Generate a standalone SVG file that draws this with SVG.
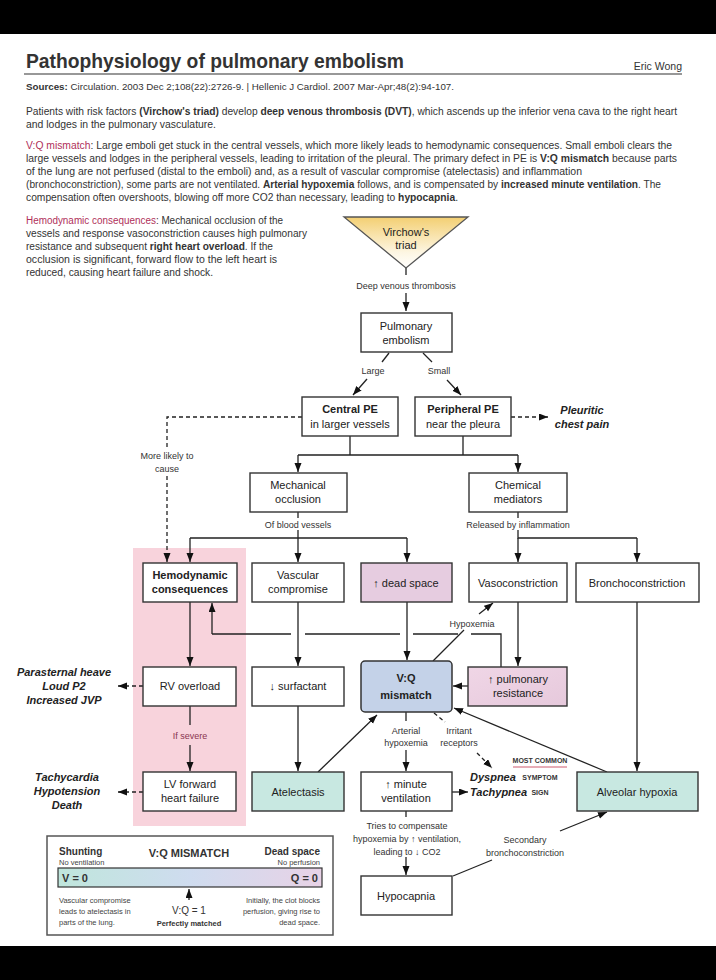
<svg xmlns="http://www.w3.org/2000/svg" width="716" height="980" viewBox="0 0 716 980">
<defs>
<marker id="ah" markerWidth="10" markerHeight="8" refX="9" refY="3.5" orient="auto" markerUnits="userSpaceOnUse"><path d="M0,0 L9,3.5 L0,7 z" fill="#111"/></marker>
<linearGradient id="tri" x1="0" y1="0" x2="0" y2="1"><stop offset="0" stop-color="#f3cf72"/><stop offset="0.7" stop-color="#fdf6e3"/><stop offset="1" stop-color="#ffffff"/></linearGradient>
<linearGradient id="bar" x1="0" y1="0" x2="1" y2="0"><stop offset="0" stop-color="#bfe6dc"/><stop offset="0.5" stop-color="#cfdcef"/><stop offset="1" stop-color="#e8d2e6"/></linearGradient>
<linearGradient id="pr" x1="0" y1="0" x2="1" y2="1"><stop offset="0" stop-color="#f0d6e6"/><stop offset="1" stop-color="#e6c9dc"/></linearGradient>
</defs>
<style>
text{font-family:"Liberation Sans",Arial,sans-serif;fill:#333}
.p{font-size:10px}
.b{font-weight:bold}
.pk{fill:#b0305a}
.n{font-size:11px;fill:#222;text-anchor:middle}
.nb{font-size:11px;fill:#222;text-anchor:middle;font-weight:bold}
.l{font-size:9px;fill:#333;text-anchor:middle}
.bi{font-size:11px;font-weight:bold;font-style:italic;fill:#222;text-anchor:middle}
.box{fill:#fff;stroke:#333;stroke-width:1.4}
.ln{fill:none;stroke:#222;stroke-width:1.3}
.da{fill:none;stroke:#222;stroke-width:1.3;stroke-dasharray:4 3}
.s{font-size:7.5px;fill:#444}
</style>
<rect x="0" y="0" width="716" height="980" fill="#fff"/>
<rect x="0" y="0" width="716" height="34" fill="#000"/>
<rect x="0" y="946" width="716" height="34" fill="#000"/>

<g id="header">
<text x="26" y="68" font-size="21" font-weight="bold" fill="#1a1a1a" textLength="378" lengthAdjust="spacingAndGlyphs">Pathophysiology of pulmonary embolism</text>
<text x="682" y="70" font-size="10.5" text-anchor="end">Eric Wong</text>
<line x1="24" y1="74" x2="682" y2="74" stroke="#333" stroke-width="1.2"/>
<text x="26" y="90" font-size="9" textLength="428" lengthAdjust="spacingAndGlyphs"><tspan class="b">Sources:</tspan> Circulation. 2003 Dec 2;108(22):2726-9. | Hellenic J Cardiol. 2007 Mar-Apr;48(2):94-107.</text>
<text class="p" x="26" y="115" textLength="651" lengthAdjust="spacingAndGlyphs">Patients with risk factors <tspan class="b">(Virchow's triad)</tspan> develop <tspan class="b">deep venous thrombosis (DVT)</tspan>, which ascends up the inferior vena cava to the right heart</text>
<text class="p" x="26" y="128" textLength="190" lengthAdjust="spacingAndGlyphs">and lodges in the pulmonary vasculature.</text>
<text class="p" x="26" y="149" textLength="646" lengthAdjust="spacingAndGlyphs"><tspan class="pk">V:Q mismatch</tspan>: Large emboli get stuck in the central vessels, which more likely leads to hemodynamic consequences. Small emboli clears the</text>
<text class="p" x="26" y="162" textLength="651" lengthAdjust="spacingAndGlyphs">large vessels and lodges in the peripheral vessels, leading to irritation of the pleural. The primary defect in PE is <tspan class="b">V:Q mismatch</tspan> because parts</text>
<text class="p" x="26" y="175" textLength="556" lengthAdjust="spacingAndGlyphs">of the lung are not perfused (distal to the emboli) and, as a result of vascular compromise (atelectasis) and inflammation</text>
<text class="p" x="26" y="188" textLength="635" lengthAdjust="spacingAndGlyphs">(bronchoconstriction), some parts are not ventilated. <tspan class="b">Arterial hypoxemia</tspan> follows, and is compensated by <tspan class="b">increased minute ventilation</tspan>. The</text>
<text class="p" x="26" y="201" textLength="432" lengthAdjust="spacingAndGlyphs">compensation often overshoots, blowing off more CO2 than necessary, leading to <tspan class="b">hypocapnia</tspan>.</text>
<text class="p" x="26" y="224" textLength="257" lengthAdjust="spacingAndGlyphs"><tspan class="pk">Hemodynamic consequences</tspan>: Mechanical occlusion of the</text>
<text class="p" x="26" y="237" textLength="281" lengthAdjust="spacingAndGlyphs">vessels and response vasoconstriction causes high pulmonary</text>
<text class="p" x="26" y="250" textLength="247" lengthAdjust="spacingAndGlyphs">resistance and subsequent <tspan class="b">right heart overload</tspan>. If the</text>
<text class="p" x="26" y="263" textLength="251" lengthAdjust="spacingAndGlyphs">occlusion is significant, forward flow to the left heart is</text>
<text class="p" x="26" y="276" textLength="187" lengthAdjust="spacingAndGlyphs">reduced, causing heart failure and shock.</text>
</g>

<rect id="hemo-zone" x="133" y="548" width="113" height="278" fill="#f8d3dc"/>

<g id="connectors">
<path class="ln" d="M406,268 V275"/>
<path class="ln" d="M406,293 V311" marker-end="url(#ah)"/>
<path class="ln" d="M389,353 L382,362"/>
<path class="ln" d="M367,379 L353,395" marker-end="url(#ah)"/>
<path class="ln" d="M423,353 L432,362"/>
<path class="ln" d="M447,380 L461,395" marker-end="url(#ah)"/>
<path class="da" d="M511,417 H548" marker-end="url(#ah)"/>
<path class="da" d="M302,417 H167 V448"/>
<path class="da" d="M167,476 V562" marker-end="url(#ah)"/>
<path class="ln" d="M350,436 V455 M463,436 V455 M298,455 H518"/>
<path class="ln" d="M298,455 V472" marker-end="url(#ah)"/>
<path class="ln" d="M518,455 V472" marker-end="url(#ah)"/>
<path class="ln" d="M298,512 V518 M298,530 V538 M190,538 H407"/>
<path class="ln" d="M190,538 V562" marker-end="url(#ah)"/>
<path class="ln" d="M298,538 V562" marker-end="url(#ah)"/>
<path class="ln" d="M407,538 V562" marker-end="url(#ah)"/>
<path class="ln" d="M518,512 V518 M518,530 V538 H637"/>
<path class="ln" d="M518,538 V562" marker-end="url(#ah)"/>
<path class="ln" d="M637,538 V562" marker-end="url(#ah)"/>
<path class="ln" d="M190,602 V666" marker-end="url(#ah)"/>
<path class="ln" d="M501,667 V634 H471 M458,634 H413 M400,634 H305 M291,634 H212"/>
<path class="ln" d="M212,634 V603" marker-end="url(#ah)"/>
<path class="ln" d="M298,602 V666" marker-end="url(#ah)"/>
<path class="ln" d="M298,706 V771" marker-end="url(#ah)"/>
<path class="ln" d="M407,602 V660" marker-end="url(#ah)"/>
<path class="ln" d="M518,602 V666" marker-end="url(#ah)"/>
<path class="ln" d="M637,602 V771" marker-end="url(#ah)"/>
<path class="ln" d="M433,661 L464,630"/>
<path class="ln" d="M479,614 L493,603" marker-end="url(#ah)"/>
<path class="ln" d="M468,686 H453" marker-end="url(#ah)"/>
<path class="ln" d="M318,772 L377,715" marker-end="url(#ah)"/>
<path class="ln" d="M607,772 L454,708" marker-end="url(#ah)"/>
<path class="ln" d="M406,712 V721"/>
<path class="ln" d="M406,750 V771" marker-end="url(#ah)"/>
<path class="da" d="M434,713 L445,722"/>
<path class="da" d="M477,753 L492,768" marker-end="url(#ah)"/>
<path class="ln" d="M452,792 H468" marker-end="url(#ah)"/>
<path class="da" d="M143,686 H118" marker-end="url(#ah)"/>
<path class="da" d="M143,792 H118" marker-end="url(#ah)"/>
<path class="ln" stroke="#6b2a3a" d="M190,706 V725"/>
<path class="ln" d="M190,745 V771" marker-end="url(#ah)"/>
<path class="ln" d="M406,811 V817"/>
<path class="ln" d="M406,857 V875" marker-end="url(#ah)"/>
<path class="ln" d="M453,876 L492,860"/>
<path class="ln" d="M560,831 L607,812" marker-end="url(#ah)"/>
</g>

<g id="edge-labels">
<text class="l" x="406" y="289" font-size="10">Deep venous thrombosis</text>
<text class="l" x="373" y="374" font-size="9.5">Large</text>
<text class="l" x="439" y="374" font-size="9.5">Small</text>
<text class="l" x="167" y="459">More likely to</text>
<text class="l" x="167" y="472">cause</text>
<text class="l" x="298" y="528" font-size="8.5">Of blood vessels</text>
<text class="l" x="518" y="528">Released by inflammation</text>
<text class="l" x="472" y="627" font-size="8.5">Hypoxemia</text>
<text class="l" x="406" y="734">Arterial</text>
<text class="l" x="406" y="746">hypoxemia</text>
<text class="l" x="459" y="734">Irritant</text>
<text class="l" x="459" y="746">receptors</text>
<text class="l" x="190" y="739" font-size="9.5" style="fill:#8a3550">If severe</text>
<text class="l" x="407" y="829" font-size="8.5">Tries to compensate</text>
<text class="l" x="407" y="842" font-size="8.5">hypoxemia by ↑ ventilation,</text>
<text class="l" x="407" y="855" font-size="8.5">leading to ↓ CO2</text>
<text class="l" x="525" y="843" font-size="9.5">Secondary</text>
<text class="l" x="525" y="856" font-size="9.5">bronchoconstriction</text>
</g>

<g id="virchow">
<polygon points="344,217 468,217 406,268" fill="url(#tri)" stroke="#555" stroke-width="1.3"/>
<text class="n" x="406" y="236" font-size="10.5">Virchow's</text>
<text class="n" x="406" y="249" font-size="10.5">triad</text>
</g>
<g id="pe"><rect class="box" x="361" y="313" width="91" height="39"/><text class="n" x="406" y="330">Pulmonary</text><text class="n" x="406" y="344">embolism</text></g>
<g id="central"><rect class="box" x="302" y="397" width="96" height="39"/><text class="nb" x="350" y="413">Central PE</text><text class="n" x="350" y="428">in larger vessels</text></g>
<g id="peripheral"><rect class="box" x="415" y="397" width="96" height="39"/><text class="nb" x="463" y="413">Peripheral PE</text><text class="n" x="463" y="428">near the pleura</text></g>
<g id="pleuritic"><text class="bi" x="582" y="414">Pleuritic</text><text class="bi" x="582" y="428">chest pain</text></g>
<g id="mechanical"><rect class="box" x="250" y="473" width="97" height="39"/><text class="n" x="298" y="489">Mechanical</text><text class="n" x="298" y="503">occlusion</text></g>
<g id="chemical"><rect class="box" x="469" y="473" width="98" height="39"/><text class="n" x="518" y="489">Chemical</text><text class="n" x="518" y="503">mediators</text></g>
<g id="hemodynamic"><rect class="box" x="143" y="563" width="94" height="39"/><text class="nb" x="190" y="579">Hemodynamic</text><text class="nb" x="190" y="593">consequences</text></g>
<g id="vascular"><rect class="box" x="252" y="563" width="92" height="39"/><text class="n" x="298" y="579">Vascular</text><text class="n" x="298" y="593">compromise</text></g>
<g id="deadspace"><rect class="box" x="361" y="563" width="91" height="39" style="fill:#e6cce0"/><text class="n" x="406" y="587">↑ dead space</text></g>
<g id="vasoconstriction"><rect class="box" x="469" y="563" width="98" height="39"/><text class="n" x="518" y="587">Vasoconstriction</text></g>
<g id="bronchoconstriction"><rect class="box" x="576" y="563" width="123" height="39"/><text class="n" x="637" y="587">Bronchoconstriction</text></g>
<g id="rv"><rect class="box" x="143" y="667" width="93" height="39"/><text class="n" x="190" y="690">RV overload</text></g>
<g id="surfactant"><rect class="box" x="252" y="667" width="92" height="39"/><text class="n" x="298" y="690">↓ surfactant</text></g>
<g id="vq"><rect x="361" y="661" width="91" height="51" rx="4" fill="#c4d2e8" stroke="#333" stroke-width="1.5"/><text class="nb" x="406" y="682" font-size="13">V:Q</text><text class="nb" x="406" y="699" font-size="13">mismatch</text></g>
<g id="pulmres"><rect class="box" x="468" y="667" width="99" height="39" style="fill:url(#pr)"/><text class="n" x="518" y="683">↑ pulmonary</text><text class="n" x="518" y="697">resistance</text></g>
<g id="rv-signs"><text class="bi" x="64" y="676">Parasternal heave</text><text class="bi" x="64" y="690">Loud P2</text><text class="bi" x="64" y="704">Increased JVP</text></g>
<g id="lv"><rect class="box" x="143" y="772" width="93" height="39"/><text class="n" x="190" y="788">LV forward</text><text class="n" x="190" y="802">heart failure</text></g>
<g id="lv-signs"><text class="bi" x="67" y="781">Tachycardia</text><text class="bi" x="67" y="795">Hypotension</text><text class="bi" x="67" y="809">Death</text></g>
<g id="atelectasis"><rect class="box" x="252" y="772" width="92" height="39" style="fill:#c8e8e1"/><text class="n" x="298" y="796">Atelectasis</text></g>
<g id="minute"><rect class="box" x="361" y="772" width="91" height="39"/><text class="n" x="406" y="788">↑ minute</text><text class="n" x="406" y="802">ventilation</text></g>
<g id="dyspnea">
<text class="bi" x="470" y="781" style="text-anchor:start">Dyspnea</text>
<text class="bi" x="470" y="796" style="text-anchor:start">Tachypnea</text>
<text x="540" y="763" font-size="7" font-weight="bold" fill="#c0304a" text-anchor="middle">MOST COMMON</text>
<line x1="513" y1="767" x2="567" y2="767" stroke="#c0304a" stroke-width="0.8"/>
<text x="540" y="780" font-size="7" font-weight="bold" fill="#c0304a" text-anchor="middle">SYMPTOM</text>
<text x="540" y="795" font-size="7" font-weight="bold" fill="#c0304a" text-anchor="middle">SIGN</text>
</g>
<g id="alveolar"><rect class="box" x="577" y="772" width="121" height="39" style="fill:#c8e8e1"/><text class="n" x="637" y="796">Alveolar hypoxia</text></g>
<g id="hypocapnia"><rect class="box" x="361" y="876" width="91" height="39"/><text class="n" x="406" y="900">Hypocapnia</text></g>

<g id="legend">
<rect x="47" y="836" width="286" height="99" fill="#fff" stroke="#555" stroke-width="1.5"/>
<text x="59" y="855" font-size="10" font-weight="bold" fill="#222">Shunting</text>
<text class="s" x="59" y="865">No ventilation</text>
<text x="189" y="857" font-size="11" font-weight="bold" fill="#222" text-anchor="middle">V:Q MISMATCH</text>
<text x="320" y="855" font-size="10" font-weight="bold" fill="#222" text-anchor="end">Dead space</text>
<text class="s" x="320" y="865" text-anchor="end">No perfusion</text>
<rect x="58" y="868" width="264" height="19" fill="url(#bar)" stroke="#333" stroke-width="1.2"/>
<text x="62" y="882" font-size="11" font-weight="bold" fill="#222">V = 0</text>
<text x="318" y="882" font-size="11" font-weight="bold" fill="#222" text-anchor="end">Q = 0</text>
<path class="ln" d="M189,900 V889" marker-end="url(#ah)"/>
<text x="189" y="914" font-size="10" fill="#333" text-anchor="middle">V:Q = 1</text>
<text x="189" y="926" font-size="7.5" font-weight="bold" fill="#333" text-anchor="middle">Perfectly matched</text>
<text class="s" x="59" y="903">Vascular compromise</text>
<text class="s" x="59" y="914">leads to atelectasis in</text>
<text class="s" x="59" y="925">parts of the lung.</text>
<text class="s" x="320" y="903" text-anchor="end">Initially, the clot blocks</text>
<text class="s" x="320" y="914" text-anchor="end">perfusion, giving rise to</text>
<text class="s" x="320" y="925" text-anchor="end">dead space.</text>
</g>
</svg>
